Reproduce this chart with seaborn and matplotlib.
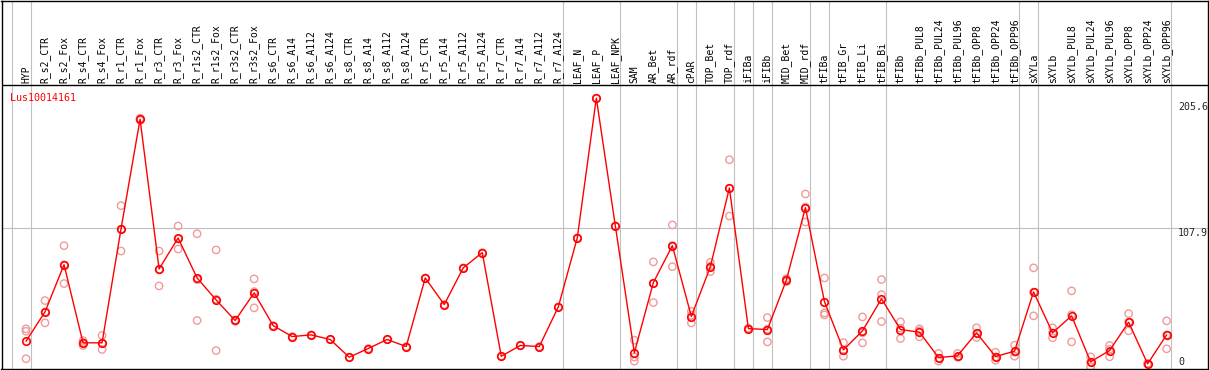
import pandas as pd
import matplotlib
matplotlib.use("Agg")
import matplotlib.pyplot as plt
import seaborn as sns

# sample names in display order
samples = ["HYP", "R_s2_CTR", "R_s2_Fox", "R_s4_CTR", "R_s4_Fox", "R_r1_CTR", "R_r1_Fox",
           "R_r3_CTR", "R_r3_Fox", "R_r1s2_CTR", "R_r1s2_Fox", "R_r3s2_CTR", "R_r3s2_Fox",
           "R_s6_CTR", "R_s6_A14", "R_s6_A112", "R_s6_A124", "R_s8_CTR", "R_s8_A14",
           "R_s8_A112", "R_s8_A124", "R_r5_CTR", "R_r5_A14", "R_r5_A112", "R_r5_A124",
           "R_r7_CTR", "R_r7_A14", "R_r7_A112", "R_r7_A124", "LEAF_N", "LEAF_P", "LEAF_NPK",
           "SAM", "AR_Bet", "AR_rdf", "cPAR", "TOP_Bet", "TOP_rdf", "iFIBa", "iFIBb",
           "MID_Bet", "MID_rdf", "tFIBa", "tFIB_Gr", "tFIB_Li", "tFIB_Bi", "tFIBb",
           "tFIBb_PUL8", "tFIBb_PUL24", "tFIBb_PUL96", "tFIBb_OPP8", "tFIBb_OPP24",
           "tFIBb_OPP96", "sXYLa", "sXYLb", "sXYLb_PUL8", "sXYLb_PUL24", "sXYLb_PUL96",
           "sXYLb_OPP8", "sXYLb_OPP24", "sXYLb_OPP96"]

# mean expression per sample
means = [22.7, 44.8, 80.3, 21.5, 21.5, 107.4, 189.8, 77.1, 100.4, 70.3, 53.8, 38.3, 59.1,
         34.5, 26.2, 27.5, 24.0, 10.7, 17.2, 24.0, 18.7, 70.3, 50.3, 77.9, 89.4,
         11.4, 19.5, 18.7, 48.5, 100.6, 205.6, 109.6,
         14.0, 66.8, 94.6, 41.3, 78.8, 138.0, 32.2, 31.5, 68.8, 123.2, 52.5, 16.2, 30.5,
         54.6, 31.5, 29.5, 10.4, 11.7, 29.0, 11.2, 15.2, 59.8, 29.0, 41.8, 7.2, 15.7,
         37.0, 5.7, 27.5]

# individual replicates
reps = [(32.0, 30.2, 9.5), (53.3, 44.6, 36.5), (94.6, 80.2, 66.1), (23.2, 21.8, 19.5),
        (27.0, 21.0, 16.5), (124.7, 107.0, 90.6), (190.5, 189.8, 189.1), (90.6, 76.4, 64.3),
        (109.4, 99.7, 92.1), (103.6, 69.0, 38.3), (91.4, 54.3, 15.7), (38.8, 38.3, 37.8),
        (69.6, 60.0, 47.8),
        (34.5,), (26.2,), (27.5,), (24.0,), (10.7,), (17.2,), (24.0,), (18.7,), (70.3,),
        (50.3,), (77.9,), (89.4,), (11.4,), (19.5,), (18.7,), (48.5,), (100.6,), (205.6,),
        (109.6,),
        (23.5, 10.8, 7.7), (82.4, 66.2, 51.8), (110.2, 94.8, 78.8), (45.2, 42.2, 36.5),
        (82.1, 79.2, 75.1), (159.3, 137.8, 116.9), (32.6, 32.2, 31.8), (40.5, 31.8, 22.2),
        (69.8, 69.1, 67.5), (133.5, 123.7, 112.4), (70.3, 44.0, 42.5), (21.7, 15.5, 11.4),
        (41.0, 29.0, 21.5), (69.1, 57.8, 37.5), (37.3, 32.5, 24.7), (32.0, 30.5, 26.0),
        (13.5, 10.0, 7.7), (13.5, 11.0, 10.6), (32.8, 28.7, 25.5), (14.4, 10.8, 8.4),
        (19.7, 14.5, 11.4), (77.9, 59.7, 41.8), (32.8, 29.0, 25.3), (60.6, 42.6, 22.2),
        (11.0, 7.1, 3.5), (19.5, 16.6, 11.0), (43.5, 37.0, 30.5), (6.0, 5.7, 5.4),
        (38.0, 27.5, 17.0)]

# index of last sample in each group (separators drawn after these)
group_ends = [-1, 0, 28, 31, 34, 35, 37, 38, 39, 41, 42, 45, 52, 53, 60]

gene = "Lus10014161"
ytick_vals = [205.6, 107.9, 0]

mean_df = pd.DataFrame({"pos": range(len(samples)), "value": means})
rep_df = pd.DataFrame([(i, v) for i, r in enumerate(reps) for v in r], columns=["pos", "value"])

sns.set_style("white")
plt.rcParams["font.family"] = ["DejaVu Sans Mono", "DejaVu Sans"]

fig = plt.figure(figsize=(12.09, 3.70), dpi=100)
ax = fig.add_axes([1.5 / 1209, 1 / 370, 1206 / 1209, 368.5 / 370])

ax.set_xlim(-1.289, 62.15)
ax.set_ylim(1.8, 279.1)
header_y = 215.6

for k in group_ends:
    ax.axvline(k + 0.25, color="#c0c0c0", lw=0.8, zorder=0)
ax.axhline(ytick_vals[1], color="#c0c0c0", lw=0.8, zorder=0)
ax.axhline(header_y, color="black", lw=1.0, zorder=1)

sns.scatterplot(data=rep_df, x="pos", y="value", ax=ax, marker="o", s=28,
                facecolor="none", edgecolor="#f09a9a", linewidth=1.0, zorder=2)
sns.lineplot(data=mean_df, x="pos", y="value", ax=ax, color="red", lw=1.0,
             marker="o", markersize=5.4, markerfacecolor="none", markeredgecolor="red",
             markeredgewidth=1.2, zorder=3)

# sample labels in the header band
for i, name in enumerate(samples):
    ax.text(i, header_y + 1.5, name, rotation=90, ha="center", va="bottom",
            fontsize=7, color="black")

ax.text(-0.85, 206.0, gene, color="red", fontsize=7.2, ha="left", va="center")

# value labels on the right
ax.text(60.6, ytick_vals[0] - 3.2, "205.6", fontsize=7.2, ha="left", va="top", clip_on=True)
ax.text(60.6, ytick_vals[1] - 0.2, "107.9", fontsize=7.2, ha="left", va="top", clip_on=True)
ax.text(60.6, 3.0, "0", fontsize=7.2, ha="left", va="bottom", clip_on=True)

ax.set_xticks([])
ax.set_yticks([])
ax.set_xlabel("")
ax.set_ylabel("")
for sp in ax.spines.values():
    sp.set_visible(True)
    sp.set_color("black")
    sp.set_linewidth(1.0)

fig.savefig("out.png", dpi=100)
